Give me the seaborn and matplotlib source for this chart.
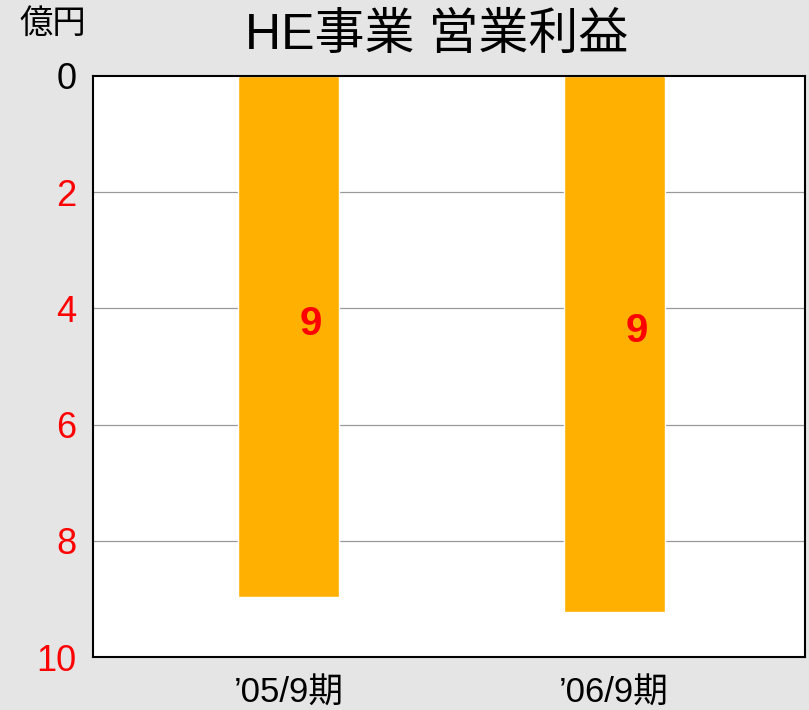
import matplotlib
matplotlib.use('Agg')
import matplotlib.pyplot as plt
import seaborn as sns
import pandas as pd

periods = ["’05/9期", "’06/9期"]
profit = [8.97, 9.22]
bar_labels = ["9", "9"]
yticks = [0, 2, 4, 6, 8, 10]

sns.set_style('white')
plt.rcParams['font.family'] = ['Liberation Sans', 'Noto Sans CJK JP', 'DejaVu Sans']
plt.rcParams['text.color'] = 'black'
plt.rcParams['xtick.color'] = 'black'
plt.rcParams['ytick.color'] = 'black'

df = pd.DataFrame({'period': periods, 'profit': profit})

fig = plt.figure(figsize=(8.09, 7.10), dpi=100)
fig.patch.set_facecolor('#e5e5e5')
ax = fig.add_axes([0.115, 0.0746, 0.880, 0.8184])
ax.set_facecolor('white')

sns.barplot(data=df, x='period', y='profit', color='#ffb000', saturation=1,
            width=0.31, ax=ax, zorder=2)

ax.set_ylim(10, 0)
ax.set_xlim(-0.6, 1.586)
ax.set_yticks(yticks)
ax.set_yticklabels([str(t) for t in yticks], fontsize=26)
for i, lbl in enumerate(ax.get_yticklabels()):
    lbl.set_color('black' if yticks[i] == 0 else 'red')
ax.tick_params(axis='y', length=0, pad=12)
ax.tick_params(axis='x', length=0, pad=14, labelsize=25, labelcolor='black')
ax.set_xlabel('')
ax.set_ylabel('')

for t in [2, 4, 6, 8]:
    ax.axhline(t, color='#999999', lw=0.9, zorder=1)

for s in ax.spines.values():
    s.set_visible(True)
    s.set_color('black')
    s.set_linewidth(1.5)

for i, (v, lab) in enumerate(zip(profit, bar_labels)):
    ax.text(i + 0.07, v / 2 - 0.22, lab, color='red', fontsize=29,
            fontweight='bold', ha='center', va='center', zorder=3)

fig.text(0.54, 0.949, 'HE事業 営業利益', fontsize=36, ha='center', va='center')
fig.text(0.065, 0.965, '億円', fontsize=24, ha='center', va='center')

fig.savefig('out.png', dpi=100, facecolor=fig.get_facecolor())
